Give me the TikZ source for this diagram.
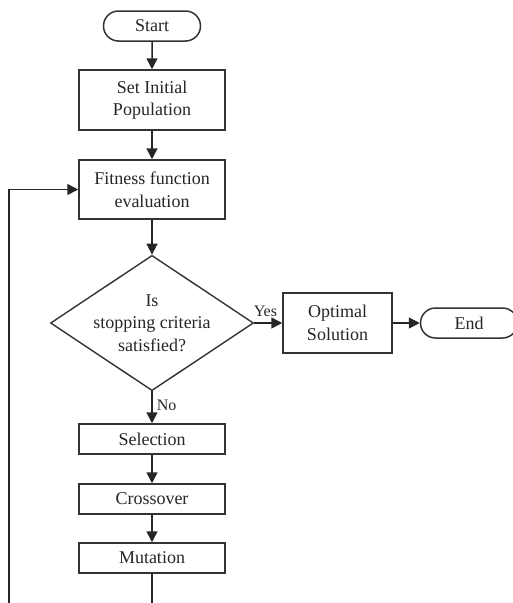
\documentclass[tikz,border=0pt]{standalone}
\usepackage{fontspec}
\setmainfont{Liberation Serif}
\usetikzlibrary{shapes.geometric,shapes.misc,arrows.meta}
\begin{document}
\begin{tikzpicture}[x=1pt,y=-1pt,
  every node/.style={font=\fontsize{18}{22.5}\selectfont, text=black!85},
  proc/.style={draw=black!80, line width=1.5pt, minimum width=146pt, align=center, inner sep=0pt},
  term/.style={draw=black!80, line width=1.5pt, rounded rectangle, minimum width=97pt, minimum height=30pt, inner sep=0pt},
  dec/.style={draw=black!80, line width=1.4pt, diamond, minimum width=203pt, minimum height=134pt, aspect=1.5, inner sep=0pt, align=center},
  conn/.style={draw=black!85, line width=1.5pt, -{Triangle[length=11pt,width=11pt]}},
  lab/.style={font=\fontsize{16}{18}\selectfont, inner sep=0pt}
]
\useasboundingbox (0,0) rectangle (513,603);
\node[term] (start) at (152,26) {Start};
\node[proc, minimum height=60pt] (init) at (152,100) {Set Initial\\Population};
\node[proc, minimum height=59pt] (fit) at (152,189.5) {Fitness function\\evaluation};
\node[dec] (crit) at (152,323) {Is\\stopping criteria\\satisfied?};
\node[proc, minimum width=109pt, minimum height=60pt] (opt) at (337.5,323) {Optimal\\Solution};
\node[term] (end) at (469,323) {End};
\node[proc, minimum height=30pt] (sel) at (152,439) {Selection};
\node[proc, minimum height=30pt] (cross) at (152,499) {Crossover};
\node[proc, minimum height=30pt] (mut) at (152,558) {Mutation};
\coordinate (low) at (152,640);
\coordinate (lowleft) at (9,640);

\draw[conn] (start) -- (init);
\draw[conn] (init) -- (fit);
\draw[conn] (fit) -- (crit.north);
\draw[conn] (crit.east) -- node[lab, anchor=base, pos=0.4, yshift=7pt] {Yes} (opt);
\draw[conn] (opt) -- (end);
\draw[conn] (crit.south) -- node[lab, right, pos=0.45, xshift=4pt] {No} (sel);
\draw[conn] (sel) -- (cross);
\draw[conn] (cross) -- (mut);
\draw[conn] (mut.south) -- (low) -- (lowleft) |- (fit.west);
\end{tikzpicture}
\end{document}
